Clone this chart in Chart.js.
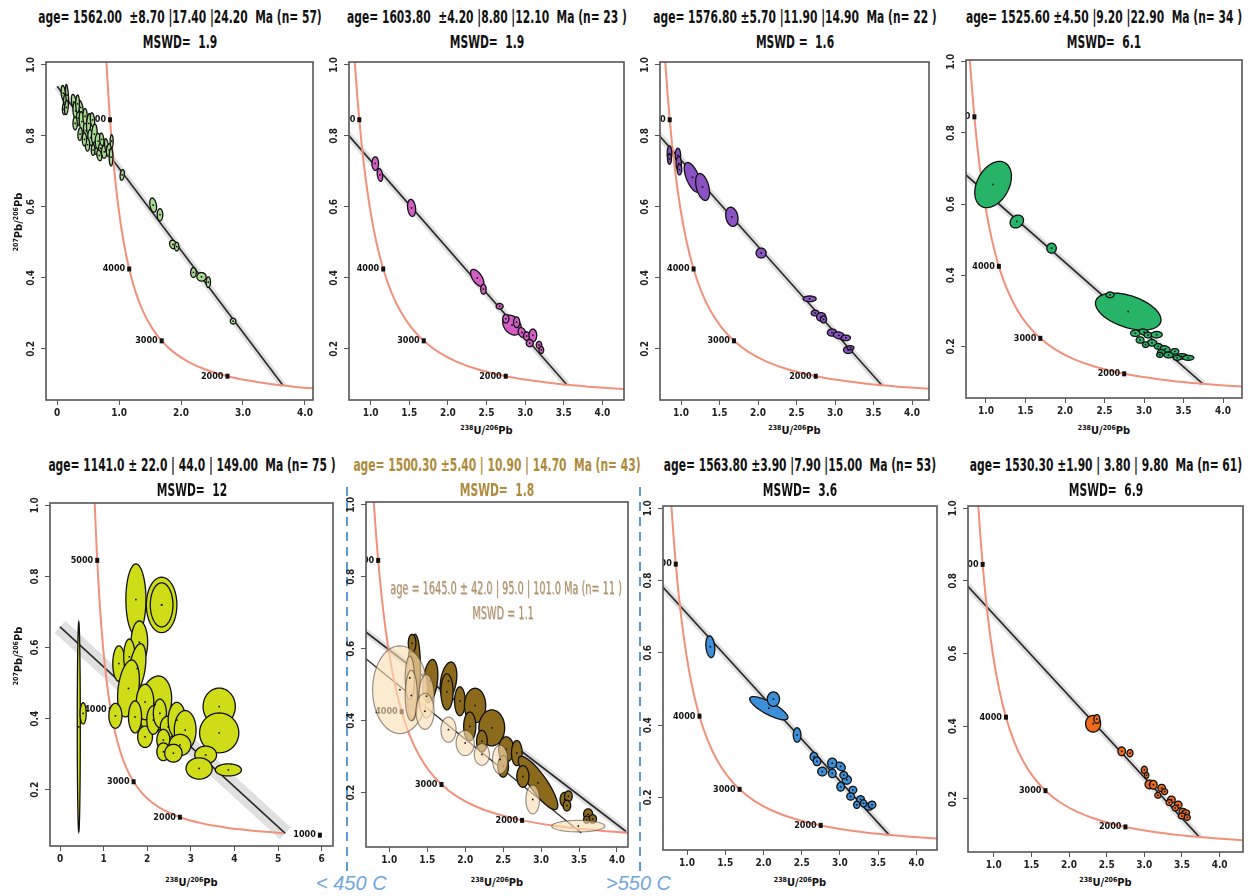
<!DOCTYPE html>
<html>
<head>
<meta charset="utf-8">
<title>Tera-Wasserburg concordia diagrams</title>
<script src="https://cdn.jsdelivr.net/npm/chart.js@4.4.1/dist/chart.umd.min.js"></script>
<style>
  html, body { margin: 0; padding: 0; background: #fff; }
  body {
    position: relative; width: 1254px; height: 896px; overflow: hidden;
    font-family: "Liberation Sans Narrow", "DejaVu Sans Condensed", "Arial Narrow", sans-serif;
    color: #111;
  }
  .plot { position: absolute; }
  .ttl {
    position: absolute; white-space: pre; transform: translateX(-50%) scaleX(0.7);
    font-weight: bold; font-size: 17px; line-height: 20px;
  }
  .xlab {
    position: absolute; white-space: nowrap; transform: translateX(-50%);
    font-weight: bold; font-size: 11px; line-height: 14px;
  }
  .ylab {
    position: absolute; white-space: nowrap; transform: translate(-50%, -50%) rotate(-90deg);
    font-weight: bold; font-size: 11px; line-height: 14px;
  }
  sup { font-size: 7px; vertical-align: 4px; line-height: 0; }
  .inner {
    position: absolute; white-space: pre; transform: translateX(-50%) scaleX(0.6);
    font-size: 18px; line-height: 22px; color: rgba(168, 128, 70, 0.85);
    text-shadow: 1px 1px 0 rgba(120, 120, 120, 0.35);
  }
  .temp {
    position: absolute; white-space: pre;
    font-family: "Liberation Sans", "DejaVu Sans", sans-serif;
    font-style: italic; font-size: 20px; line-height: 24px; color: #6fa8dc;
  }
</style>
</head>
<body>
<svg width="1254" height="896" style="position:absolute;left:0;top:0">
  <line x1="347" y1="487" x2="347" y2="872" stroke="#5b9bd5" stroke-width="2" stroke-dasharray="9 6"/>
  <line x1="640" y1="487" x2="640" y2="872" stroke="#5b9bd5" stroke-width="2" stroke-dasharray="9 6"/>
</svg>
<div class="temp" style="left:316px;top:871px">&lt; 450 C</div>
<div class="temp" style="left:606px;top:871px">&gt;550 C</div>

<script>
const FONT = '"Liberation Sans Narrow", "DejaVu Sans Condensed", "Arial Narrow", sans-serif';

// concordia curve: age (Ma), 238U/206Pb, 207Pb/206Pb
const concAges = [1150, 1300, 1400, 1500, 1600, 1750, 2000, 2250, 2500, 2750, 3000, 3250, 3500, 3750, 4000, 4250, 4500, 4750, 5000, 5250, 5500];
const concX = [5.1206, 4.4759, 4.1224, 3.8171, 3.5496, 3.2063, 2.7491, 2.3941, 2.1108, 1.8796, 1.6874, 1.5253, 1.3868, 1.2673, 1.1630, 1.0714, 0.9903, 0.9180, 0.8533, 0.7950, 0.7423];
const concY = [0.0781, 0.0843, 0.0888, 0.0936, 0.0987, 0.1071, 0.1230, 0.1419, 0.1643, 0.1909, 0.2227, 0.2605, 0.3058, 0.3600, 0.4250, 0.5030, 0.5967, 0.7095, 0.8453, 1.0090, 1.2069];

// age ticks on the concordia
const tickAges = [1000, 2000, 3000, 4000, 5000];
const tickX = [5.9588, 2.7491, 1.6874, 1.1630, 0.8533];
const tickY = [0.0725, 0.1230, 0.2227, 0.4250, 0.8453];

// discordia: 207Pb/206Pb intercept at x = 0 and lower concordia intercept
const lineY0 = [0.940, 0.979, 0.975, 0.828, 0.658, 0.758, 0.940, 0.932];
const lineEndX = [3.647, 3.540, 3.608, 3.745, 5.165, 4.120, 3.643, 3.732];
const lineEndY = [0.0967, 0.0989, 0.0975, 0.0949, 0.0778, 0.0920, 0.0968, 0.0951];
// second discordia of the 1645 Ma subgroup
const subLineY0 = 0.690;
const subLineEnd = [3.53, 0.088];

// error ellipses: [x, y, half-width x, half-height y, correlation]
const ellP1 = [
  [0.10, 0.920, 0.035, 0.022, -0.3], [0.13, 0.895, 0.030, 0.025, 0.2], [0.11, 0.875, 0.025, 0.015, 0], [0.16, 0.915, 0.025, 0.030, -0.5], [0.15, 0.880, 0.030, 0.020, 0.3],
  [0.27, 0.895, 0.040, 0.022, -0.4], [0.30, 0.870, 0.045, 0.025, -0.2], [0.34, 0.850, 0.035, 0.022, 0.3], [0.29, 0.835, 0.035, 0.018, 0], [0.38, 0.880, 0.040, 0.020, -0.5],
  [0.40, 0.840, 0.045, 0.028, -0.3], [0.37, 0.805, 0.035, 0.018, 0.2], [0.45, 0.855, 0.035, 0.022, 0], [0.47, 0.815, 0.045, 0.020, -0.4], [0.51, 0.835, 0.035, 0.028, 0.3],
  [0.54, 0.795, 0.045, 0.022, -0.2], [0.49, 0.775, 0.035, 0.018, 0], [0.57, 0.845, 0.035, 0.020, -0.3], [0.60, 0.805, 0.045, 0.028, 0.2], [0.62, 0.765, 0.035, 0.018, -0.4],
  [0.66, 0.785, 0.045, 0.022, 0], [0.70, 0.765, 0.035, 0.018, 0.3], [0.72, 0.790, 0.035, 0.018, -0.3], [0.76, 0.755, 0.045, 0.018, 0], [0.80, 0.770, 0.035, 0.022, -0.5],
  [0.84, 0.760, 0.045, 0.018, 0.2], [0.87, 0.740, 0.030, 0.025, 0], [0.88, 0.785, 0.025, 0.018, 0], [0.44, 0.790, 0.035, 0.018, 0], [0.33, 0.890, 0.030, 0.025, 0],
  [0.58, 0.760, 0.030, 0.015, 0], [0.68, 0.745, 0.040, 0.015, -0.3],
  [1.05, 0.690, 0.035, 0.015, 0.3], [1.55, 0.605, 0.055, 0.020, -0.3], [1.66, 0.578, 0.045, 0.017, 0], [1.87, 0.494, 0.055, 0.012, -0.2], [1.93, 0.488, 0.035, 0.012, 0],
  [2.20, 0.415, 0.045, 0.014, 0], [2.33, 0.403, 0.075, 0.012, 0], [2.44, 0.388, 0.035, 0.015, 0], [2.84, 0.278, 0.045, 0.008, 0]
];
const ellP2 = [
  [1.06, 0.722, 0.043, 0.019, 0], [1.12, 0.690, 0.035, 0.018, -0.3], [1.53, 0.597, 0.052, 0.024, -0.2],
  [2.38, 0.400, 0.086, 0.024, -0.6], [2.46, 0.368, 0.035, 0.014, 0], [2.67, 0.320, 0.045, 0.008, 0],
  [2.83, 0.267, 0.120, 0.028, -0.3], [2.89, 0.275, 0.040, 0.015, 0], [2.96, 0.246, 0.050, 0.014, -0.3], [3.02, 0.236, 0.040, 0.012, 0],
  [3.10, 0.238, 0.050, 0.018, 0], [3.06, 0.216, 0.045, 0.010, 0], [3.18, 0.211, 0.035, 0.010, 0], [3.21, 0.197, 0.030, 0.010, 0], [2.75, 0.285, 0.040, 0.012, 0]
];
const ellP3 = [
  [0.85, 0.750, 0.030, 0.022, 0], [0.85, 0.735, 0.025, 0.015, 0], [0.96, 0.745, 0.035, 0.020, 0], [0.97, 0.722, 0.035, 0.020, 0], [0.98, 0.705, 0.030, 0.015, 0],
  [1.15, 0.683, 0.108, 0.042, -0.6], [1.28, 0.656, 0.090, 0.038, -0.4], [1.66, 0.572, 0.080, 0.027, -0.2], [2.04, 0.470, 0.065, 0.014, 0],
  [2.67, 0.341, 0.085, 0.008, 0], [2.74, 0.301, 0.050, 0.008, 0], [2.82, 0.290, 0.060, 0.012, 0], [2.85, 0.283, 0.040, 0.010, 0],
  [2.96, 0.246, 0.060, 0.010, 0], [3.05, 0.238, 0.070, 0.010, -0.2], [3.14, 0.231, 0.060, 0.008, 0], [3.17, 0.197, 0.060, 0.010, 0], [3.20, 0.203, 0.045, 0.006, 0]
];
const ellP4 = [
  [1.09, 0.655, 0.232, 0.065, 0.35], [1.39, 0.551, 0.085, 0.018, 0.2], [1.83, 0.476, 0.060, 0.014, 0],
  [2.80, 0.298, 0.415, 0.052, -0.45], [2.57, 0.345, 0.050, 0.008, 0],
  [2.89, 0.237, 0.060, 0.009, 0], [3.00, 0.240, 0.060, 0.009, -0.3], [3.05, 0.232, 0.050, 0.008, 0], [3.16, 0.233, 0.070, 0.009, 0],
  [2.95, 0.218, 0.050, 0.009, 0], [3.10, 0.210, 0.060, 0.009, 0], [3.02, 0.205, 0.040, 0.008, 0], [3.18, 0.200, 0.050, 0.008, 0],
  [3.27, 0.193, 0.060, 0.009, -0.3], [3.22, 0.183, 0.050, 0.008, 0], [3.31, 0.176, 0.060, 0.008, 0], [3.39, 0.186, 0.050, 0.008, 0],
  [3.48, 0.172, 0.070, 0.008, 0], [3.56, 0.168, 0.070, 0.007, 0], [3.42, 0.168, 0.050, 0.007, 0], [3.20, 0.176, 0.040, 0.007, 0]
];
const ellP5 = [
  [0.43, 0.377, 0.035, 0.295, 0], [0.53, 0.415, 0.070, 0.030, 0],
  [1.74, 0.735, 0.230, 0.100, 0], [2.33, 0.720, 0.350, 0.078, 0], [2.33, 0.720, 0.260, 0.062, 0],
  [1.82, 0.615, 0.190, 0.060, 0], [1.35, 0.555, 0.140, 0.050, 0], [1.59, 0.574, 0.130, 0.050, 0], [1.77, 0.541, 0.200, 0.070, 0.4],
  [1.57, 0.485, 0.250, 0.080, 0.3], [1.27, 0.408, 0.150, 0.035, 0], [2.18, 0.440, 0.380, 0.080, 0.2], [1.95, 0.447, 0.200, 0.050, 0],
  [1.72, 0.405, 0.150, 0.045, 0], [1.95, 0.349, 0.170, 0.030, 0], [2.14, 0.396, 0.150, 0.040, 0], [2.29, 0.415, 0.150, 0.040, 0],
  [2.48, 0.377, 0.180, 0.030, 0], [2.68, 0.396, 0.200, 0.050, 0], [2.87, 0.368, 0.250, 0.055, 0], [2.37, 0.340, 0.150, 0.030, 0],
  [2.75, 0.326, 0.250, 0.030, 0], [2.37, 0.307, 0.150, 0.025, 0], [2.60, 0.303, 0.200, 0.025, 0],
  [3.65, 0.434, 0.370, 0.052, 0], [3.65, 0.360, 0.450, 0.056, 0], [3.34, 0.298, 0.250, 0.025, 0], [3.19, 0.260, 0.300, 0.030, 0], [3.86, 0.256, 0.300, 0.017, 0]
];
const ellP6 = [
  [1.32, 0.520, 0.090, 0.120, 0.2], [1.30, 0.615, 0.050, 0.025, 0], [1.54, 0.510, 0.100, 0.060, 0.3], [1.78, 0.510, 0.110, 0.053, 0.3],
  [1.76, 0.480, 0.080, 0.050, 0], [1.93, 0.454, 0.070, 0.040, 0], [2.13, 0.442, 0.140, 0.048, 0], [2.06, 0.384, 0.080, 0.040, 0],
  [2.35, 0.380, 0.170, 0.050, 0], [2.22, 0.343, 0.070, 0.030, 0], [2.54, 0.320, 0.100, 0.035, 0], [2.68, 0.310, 0.070, 0.035, 0],
  [2.50, 0.273, 0.070, 0.030, 0], [2.96, 0.227, 0.260, 0.074, -0.85], [2.76, 0.245, 0.080, 0.030, 0],
  [3.31, 0.181, 0.060, 0.020, 0], [3.36, 0.190, 0.050, 0.015, 0], [3.34, 0.164, 0.050, 0.015, 0],
  [3.62, 0.140, 0.060, 0.015, 0], [3.68, 0.127, 0.050, 0.012, 0], [3.60, 0.125, 0.040, 0.010, 0]
];
const ellP6sub = [
  [1.14, 0.486, 0.360, 0.122, 0], [1.27, 0.519, 0.060, 0.060, 0], [1.29, 0.470, 0.080, 0.070, 0], [1.49, 0.468, 0.100, 0.060, 0], [1.47, 0.426, 0.120, 0.050, 0],
  [1.78, 0.375, 0.100, 0.035, 0], [2.00, 0.338, 0.120, 0.035, 0], [2.22, 0.306, 0.100, 0.030, 0], [2.46, 0.292, 0.100, 0.040, 0],
  [2.89, 0.181, 0.090, 0.040, 0], [3.49, 0.107, 0.350, 0.016, 0]
];
const ellP7 = [
  [1.305, 0.617, 0.059, 0.030, -0.2], [2.07, 0.447, 0.250, 0.032, -0.8], [2.13, 0.472, 0.080, 0.020, 0], [2.44, 0.373, 0.050, 0.020, 0],
  [2.66, 0.313, 0.050, 0.012, 0], [2.70, 0.300, 0.050, 0.012, 0], [2.90, 0.295, 0.060, 0.014, 0], [3.01, 0.286, 0.060, 0.012, -0.3],
  [2.77, 0.272, 0.060, 0.012, 0], [2.90, 0.267, 0.050, 0.012, 0], [3.09, 0.249, 0.060, 0.012, 0], [3.01, 0.230, 0.050, 0.012, 0],
  [3.17, 0.221, 0.050, 0.010, 0], [3.14, 0.203, 0.050, 0.010, 0], [3.27, 0.195, 0.050, 0.010, 0], [3.22, 0.180, 0.040, 0.010, 0],
  [3.38, 0.175, 0.060, 0.010, 0], [3.42, 0.180, 0.050, 0.010, 0], [3.31, 0.184, 0.040, 0.010, 0], [3.05, 0.262, 0.050, 0.010, 0]
];
const ellP8 = [
  [2.32, 0.407, 0.100, 0.023, 0], [2.37, 0.420, 0.040, 0.012, 0], [2.70, 0.331, 0.050, 0.012, 0], [2.81, 0.326, 0.040, 0.010, 0],
  [3.00, 0.280, 0.040, 0.010, 0], [3.03, 0.265, 0.030, 0.008, 0], [3.07, 0.240, 0.060, 0.012, 0], [3.12, 0.239, 0.050, 0.012, 0],
  [3.23, 0.230, 0.050, 0.010, 0], [3.27, 0.220, 0.040, 0.008, 0], [3.36, 0.198, 0.050, 0.010, 0], [3.33, 0.190, 0.040, 0.008, 0],
  [3.45, 0.184, 0.050, 0.010, 0], [3.51, 0.166, 0.050, 0.008, 0], [3.55, 0.162, 0.050, 0.008, 0], [3.50, 0.153, 0.050, 0.008, 0],
  [3.57, 0.149, 0.040, 0.008, 0], [3.41, 0.175, 0.040, 0.008, 0], [3.18, 0.210, 0.040, 0.008, 0]
];

// headers
const ageText = [
  'age= 1562.00  ±8.70 |17.40 |24.20  Ma (n= 57)',
  'age= 1603.80  ±4.20 |8.80 |12.10  Ma (n= 23 )',
  'age= 1576.80 ±5.70 |11.90 |14.90  Ma (n= 22 )',
  'age= 1525.60 ±4.50 |9.20 |22.90  Ma (n= 34 )',
  'age= 1141.0 ± 22.0 | 44.0 | 149.00  Ma (n= 75 )',
  'age= 1500.30 ±5.40 | 10.90 | 14.70  Ma (n= 43)',
  'age= 1563.80 ±3.90 |7.90 |15.00  Ma (n= 53)',
  'age= 1530.30 ±1.90 | 3.80 | 9.80  Ma (n= 61)'
];
const mswdText = ['MSWD=  1.9', 'MSWD=  1.9', 'MSWD =  1.6', 'MSWD=  6.1', 'MSWD=  12', 'MSWD=  1.8', 'MSWD=  3.6', 'MSWD=  6.9'];

// panel frames (page pixels) and axis windows
const panels = [
  { box: [46, 62, 313, 400],  x: [-0.18, 4.13], y: [0.056, 1.008], step: 1,   ell: ellP1, fill: '#a9dc8e' },
  { box: [349, 62, 624, 400], x: [0.72, 4.28],  y: [0.056, 1.008], step: 0.5, ell: ellP2, fill: '#d35fc6' },
  { box: [660, 62, 929, 400], x: [0.727, 4.22], y: [0.056, 1.008], step: 0.5, ell: ellP3, fill: '#8a52c2' },
  { box: [966, 60, 1242, 398], x: [0.747, 4.24], y: [0.055, 1.005], step: 0.5, ell: ellP4, fill: '#27b469' },
  { box: [50, 503, 333, 846], x: [-0.23, 6.26], y: [0.042, 1.0065], step: 1, ell: ellP5, fill: '#cfdd18' },
  { box: [366, 502, 628, 847], x: [0.693, 4.145], y: [0.049, 1.0075], step: 0.5, ell: ellP6, fill: '#8c6a1c' },
  { box: [663, 506, 937, 850], x: [0.686, 4.27], y: [0.055, 1.006], step: 0.5, ell: ellP7, fill: '#3c8fd8' },
  { box: [968, 506, 1243, 852], x: [0.659, 4.31], y: [0.054, 1.006], step: 0.5, ell: ellP8, fill: '#ef6a1c' }
];

function pts(xs, ys) {
  return xs.map((v, k) => ({ x: v, y: ys[k] }));
}

// ellipses, centre points, age labels and the frame box
function isoPlugin(i, groups) {
  return {
    id: 'iso' + i,
    afterDatasetsDraw(chart) {
      const { ctx, chartArea: a } = chart;
      const xs = chart.scales.x, ys = chart.scales.y;
      ctx.save();
      ctx.beginPath();
      ctx.rect(a.left, a.top, a.width, a.height);
      ctx.clip();

      // age ticks and their labels
      ctx.font = 'bold 9px ' + FONT;
      ctx.fillStyle = '#111';
      ctx.textAlign = 'right';
      ctx.textBaseline = 'middle';
      tickAges.forEach((age, k) => {
        const px = xs.getPixelForValue(tickX[k]), py = ys.getPixelForValue(tickY[k]);
        ctx.fillRect(px - 2, py - 2.5, 4, 5);
        ctx.fillText(String(age), px - 4, py);
      });

      groups.forEach(g => {
        g.items.forEach(e => {
          const [cx, cy, sx, sy, r] = e;
          const q = Math.sqrt(1 - r * r);
          ctx.beginPath();
          for (let k = 0; k <= 60; k++) {
            const t = k / 60 * Math.PI * 2;
            const px = xs.getPixelForValue(cx + sx * Math.cos(t));
            const py = ys.getPixelForValue(cy + sy * (r * Math.cos(t) + q * Math.sin(t)));
            if (k === 0) ctx.moveTo(px, py); else ctx.lineTo(px, py);
          }
          ctx.closePath();
          ctx.fillStyle = g.fill;
          ctx.fill();
          ctx.lineWidth = g.lw;
          ctx.strokeStyle = g.stroke;
          ctx.stroke();
        });
        ctx.fillStyle = '#111';
        g.items.forEach(e => {
          ctx.fillRect(xs.getPixelForValue(e[0]) - 0.8, ys.getPixelForValue(e[1]) - 0.8, 1.6, 1.6);
        });
      });
      ctx.restore();
    },
    afterDraw(chart) {
      const { ctx, chartArea: a } = chart;
      ctx.save();
      ctx.strokeStyle = '#555';
      ctx.lineWidth = 1.6;
      ctx.strokeRect(a.left, a.top, a.width, a.height);
      ctx.restore();
    }
  };
}

function tickFmt(i) {
  if (i === 0) return v => (v === 0 ? '0' : v.toFixed(1));
  if (i === 4) return v => String(v);
  return v => v.toFixed(1);
}

function makePanel(i) {
  const p = panels[i];
  const wrap = document.createElement('div');
  wrap.className = 'plot';
  const w0 = p.box[2] - p.box[0], h0 = p.box[3] - p.box[1];
  wrap.style.left = (p.box[0] - 40) + 'px';
  wrap.style.top = (p.box[1] - 20) + 'px';
  wrap.style.width = (w0 + 60) + 'px';
  wrap.style.height = (h0 + 60) + 'px';
  const cv = document.createElement('canvas');
  wrap.appendChild(cv);
  document.body.appendChild(wrap);

  const bandWidth = i === 4 ? 16 : 7;
  const datasets = [
    {
      data: pts(concX, concY), showLine: true, borderColor: '#f2917a', borderWidth: 2,
      pointRadius: 0, tension: 0.35
    },
    {
      data: [{ x: 0, y: lineY0[i] }, { x: lineEndX[i], y: lineEndY[i] }], showLine: true,
      borderColor: 'rgba(0,0,0,0.12)', borderWidth: bandWidth, pointRadius: 0
    },
    {
      data: [{ x: 0, y: lineY0[i] }, { x: lineEndX[i], y: lineEndY[i] }], showLine: true,
      borderColor: '#333', borderWidth: 1.7, pointRadius: 0
    }
  ];
  if (i === 5) {
    datasets.push({
      data: [{ x: 0, y: subLineY0 }, { x: subLineEnd[0], y: subLineEnd[1] }], showLine: true,
      borderColor: '#333', borderWidth: 1.4, pointRadius: 0
    });
  }

  const groups = [{ items: p.ell, fill: p.fill, stroke: '#111', lw: 1.3 }];
  if (i === 5) groups.push({ items: ellP6sub, fill: 'rgba(252,222,180,0.62)', stroke: 'rgba(70,60,50,0.55)', lw: 1.2 });

  const tickFont = { family: FONT, size: 10, weight: 'bold' };
  const chart = new Chart(cv, {
    type: 'scatter',
    data: { datasets },
    options: {
      responsive: true,
      maintainAspectRatio: false,
      animation: false,
      events: [],
      layout: { padding: { top: 6, right: 6, left: 0, bottom: 0 } },
      plugins: { legend: { display: false }, tooltip: { enabled: false } },
      scales: {
        x: {
          type: 'linear', min: p.x[0], max: p.x[1],
          border: { display: false },
          grid: { drawOnChartArea: false, drawTicks: true, tickLength: 5, tickColor: '#555', lineWidth: 1 },
          ticks: {
            stepSize: p.step, includeBounds: false, autoSkip: false, minRotation: 0, maxRotation: 0,
            padding: 2, color: '#222', font: tickFont, callback: tickFmt(i)
          }
        },
        y: {
          type: 'linear', min: p.y[0], max: p.y[1],
          border: { display: false },
          grid: { drawOnChartArea: false, drawTicks: true, tickLength: 5, tickColor: '#555', lineWidth: 1 },
          ticks: {
            stepSize: 0.2, includeBounds: false, autoSkip: false, minRotation: 90, maxRotation: 90,
            crossAlign: 'center', padding: 2, color: '#222', font: tickFont,
            callback: v => v.toFixed(1)
          }
        }
      }
    },
    plugins: [isoPlugin(i, groups)]
  });

  // move the canvas so the plot area sits on the frame box
  for (let pass = 0; pass < 2; pass++) {
    const a = chart.chartArea;
    const mL = a.left, mT = a.top, mR = chart.width - a.right, mB = chart.height - a.bottom;
    wrap.style.left = (p.box[0] - mL) + 'px';
    wrap.style.top = (p.box[1] - mT) + 'px';
    wrap.style.width = (w0 + mL + mR) + 'px';
    wrap.style.height = (h0 + mT + mB) + 'px';
    chart.resize();
  }

  // header lines
  const cx = (p.box[0] + p.box[2]) / 2;
  const top = i < 4 ? 7 : 455;
  const t1 = document.createElement('div');
  t1.className = 'ttl';
  t1.style.left = cx + 'px';
  t1.style.top = top + 'px';
  t1.textContent = ageText[i];
  const t2 = document.createElement('div');
  t2.className = 'ttl';
  t2.style.left = cx + 'px';
  t2.style.top = (top + 25) + 'px';
  t2.textContent = mswdText[i];
  if (i === 5) { t1.style.color = '#b08a3c'; t2.style.color = '#b08a3c'; }
  document.body.appendChild(t1);
  document.body.appendChild(t2);

  if (i !== 0) {
    const xl = document.createElement('div');
    xl.className = 'xlab';
    xl.style.left = cx + 'px';
    xl.style.top = (i < 4 ? 424 : 876) + 'px';
    xl.innerHTML = '<sup>238</sup>U/<sup>206</sup>Pb';
    document.body.appendChild(xl);
  }
  if (i === 0 || i === 4) {
    const yl = document.createElement('div');
    yl.className = 'ylab';
    yl.style.left = '19px';
    yl.style.top = (i === 0 ? 222 : 656) + 'px';
    yl.innerHTML = '<sup>207</sup>Pb/<sup>206</sup>Pb';
    document.body.appendChild(yl);
  }
}

panels.forEach((p, i) => makePanel(i));

// result of the 1645 Ma subgroup inside the 1500 Ma panel
const sub1 = document.createElement('div');
sub1.className = 'inner';
sub1.style.left = '506px';
sub1.style.top = '577px';
sub1.textContent = 'age = 1645.0 ± 42.0 | 95.0 | 101.0 Ma (n= 11 )';
const sub2 = document.createElement('div');
sub2.className = 'inner';
sub2.style.left = '503px';
sub2.style.top = '602px';
sub2.textContent = 'MSWD = 1.1';
document.body.appendChild(sub1);
document.body.appendChild(sub2);
</script>
</body>
</html>
